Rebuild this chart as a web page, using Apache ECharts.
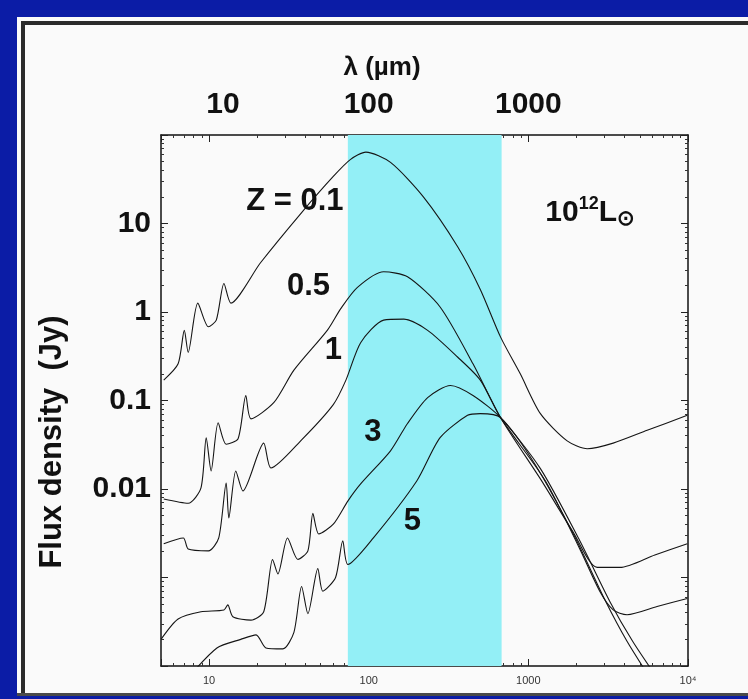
<!DOCTYPE html>
<html>
<head>
<meta charset="utf-8">
<title>SED vs redshift</title>
<script src="https://cdn.jsdelivr.net/npm/echarts@6/dist/echarts.min.js"></script>
<style>
  html, body { margin: 0; padding: 0; background: #0b1ca6; }
  #main { width: 748px; height: 699px; }
</style>
</head>
<body>
<div id="main"></div>
<script>
// wavelength (um), flux density (Jy)
const sedZ01 = [[5.2, 0.17], [6.4, 0.26], [7.0, 0.62], [7.4, 0.35], [8.5, 1.26], [9.9, 0.68], [11.1, 0.81], [12.4, 2.1], [13.7, 1.26], [21, 3.6], [38, 13.3], [60, 34], [77, 53], [96, 64], [137, 49], [220, 20], [360, 5.5], [500, 1.8], [670, 0.52], [890, 0.2], [1190, 0.071], [1750, 0.035], [2340, 0.0285], [3400, 0.033], [5550, 0.046], [9900, 0.068]];
const sedZ05 = [[5.2, 0.0077], [7.4, 0.0069], [8.9, 0.0103], [9.6, 0.038], [10.3, 0.016], [11.4, 0.056], [12.8, 0.032], [15.2, 0.037], [17, 0.114], [18.3, 0.062], [25.5, 0.095], [34, 0.22], [55, 0.62], [67, 1.1], [85, 1.9], [124, 2.85], [175, 2.5], [280, 1.14], [450, 0.26], [670, 0.064], [1190, 0.013], [1900, 0.0033], [2700, 0.0013], [3750, 0.0013], [6200, 0.0018], [9900, 0.0024]];
const sedZ1 = [[5.2, 0.0024], [6.9, 0.0028], [7.4, 0.0021], [9.9, 0.002], [11.5, 0.0028], [12.8, 0.0117], [13.3, 0.0047], [14.7, 0.016], [16.3, 0.0095], [22, 0.033], [24.4, 0.0173], [38, 0.036], [60, 0.09], [72, 0.17], [89, 0.45], [124, 0.81], [166, 0.83], [234, 0.62], [360, 0.31], [500, 0.17], [670, 0.064], [1280, 0.0123], [2100, 0.0021], [2800, 0.0007], [3400, 0.00043], [4150, 0.00038], [6400, 0.00047], [9900, 0.00058]];
const sedZ3 = [[5.0, 0.0002], [6.4, 0.00034], [8.9, 0.00041], [12.4, 0.00043], [13.1, 0.00049], [14.1, 0.00036], [18.3, 0.00033], [22, 0.00041], [25, 0.0016], [27, 0.0011], [31, 0.0028], [36, 0.0016], [41.6, 0.002], [44.7, 0.0053], [48.7, 0.0031], [60, 0.004], [74, 0.0073], [89, 0.0114], [137, 0.027], [175, 0.055], [234, 0.108], [325, 0.148], [450, 0.114], [670, 0.064], [1190, 0.017], [2100, 0.0026], [3250, 0.00053], [4500, 0.00019], [6200, 0.00008]];
const sedZ5 = [[7.2, 0.00007], [11.2, 0.00016], [15.8, 0.0002], [19.7, 0.000225], [22.7, 0.00016], [29, 0.000156], [34, 0.00024], [38, 0.00079], [41.6, 0.00039], [48, 0.00126], [51.6, 0.0007], [62, 0.001], [68.8, 0.0026], [74, 0.0014], [107, 0.0028], [200, 0.0123], [280, 0.038], [416, 0.068], [500, 0.071], [670, 0.064], [1100, 0.019], [1970, 0.0028], [3030, 0.00055], [4150, 0.00019], [5600, 0.00008]];

// shaded submm band (um)
const band = [74, 680];

// curve labels: text, wavelength, flux
const labels = [
  ['Z = 0.1', 34.5, 17.8],
  ['0.5', 42, 1.92],
  ['1', 60, 0.37],
  ['3', 106, 0.043],
  ['5', 188, 0.0043],
  ['{n|10}{sup|12}{n|L}{sub|⊙}', 2440, 13.3],
];

const xTickText = { 1: '10', 2: '100', 3: '1000', 4: '10⁴' };
const xTopText = { 1: '{shift|10}', 2: '100', 3: '1000' };
const yTickText = { 1: '10', 0: '1', '-1': '0.1', '-2': '0.01' };

const FONT = 'Liberation Sans, Arial, Helvetica, sans-serif';
const INK = '#111';
const LINE = '#151515';

// decade exponent of a tick value, or null when it is not a whole decade
const decade = (v) => {
  const e = Math.log10(v);
  return Math.abs(e - Math.round(e)) < 1e-6 ? Math.round(e) : null;
};

const ticks = {
  axisLine: { show: true, lineStyle: { color: INK, width: 1.5 } },
  axisTick: { show: true, inside: true, length: 7, lineStyle: { color: '#222' } },
  minorTick: { show: true, splitNumber: 9, length: 3, lineStyle: { color: '#333' } },
  splitLine: { show: false },
};
const logX = (pos, label) => Object.assign({ type: 'log', position: pos, min: 5, max: 10000, axisLabel: label }, ticks);
const logY = (pos, label) => Object.assign({ type: 'log', position: pos, min: 0.0001, max: 100, axisLabel: label }, ticks);

const bigLabel = { color: INK, fontFamily: FONT, fontWeight: 'bold', fontSize: 30 };

const curve = (name, data) => ({
  name,
  type: 'line',
  data,
  showSymbol: false,
  smooth: 0.25,
  lineStyle: { color: LINE, width: 1.1 },
  z: 3,
});

const series = [
  curve('z=0.1', sedZ01),
  curve('z=0.5', sedZ05),
  curve('z=1', sedZ1),
  curve('z=3', sedZ3),
  curve('z=5', sedZ5),
  {
    type: 'scatter',
    symbolSize: 0,
    itemStyle: { opacity: 1, color: INK },
    data: labels.map((l) => [l[1], l[2], l[0]]),
    label: Object.assign({
      show: true,
      position: 'inside',
      formatter: (p) => p.value[2],
      fontSize: 31,
      rich: {
        n: { color: INK, fontFamily: FONT, fontWeight: 'bold', fontSize: 30 },
        sup: { color: INK, fontFamily: FONT, fontWeight: 'bold', fontSize: 18, verticalAlign: 'top', padding: [0, 0, 12, 0] },
        sub: { color: INK, fontFamily: FONT, fontWeight: 'bold', fontSize: 21, padding: [14, 0, 0, 0] },
      },
    }, { color: INK, fontFamily: FONT, fontWeight: 'bold' }),
    z: 5,
    silent: true,
  },
];

series[0].markArea = {
  silent: true,
  itemStyle: { color: '#93eff6' },
  data: [[{ xAxis: band[0] }, { xAxis: band[1] }]],
};

const option = {
  backgroundColor: '#0b1ca6',
  animation: false,
  grid: { left: 161, right: 60, top: 135, bottom: 33 },
  xAxis: [
    logX('bottom', {
      show: true,
      margin: 9,
      color: '#333',
      fontFamily: FONT,
      fontSize: 11,
      formatter: (v) => xTickText[decade(v)] || '',
    }),
    logX('top', Object.assign({
      show: true,
      margin: 15,
      formatter: (v) => xTopText[decade(v)] || '',
      rich: { shift: Object.assign({ padding: [0, 0, 0, 28] }, bigLabel) },
    }, bigLabel)),
  ],
  yAxis: [
    logY('left', Object.assign({
      show: true,
      margin: 10,
      formatter: (v) => yTickText[decade(v)] || '',
    }, bigLabel)),
    logY('right', { show: false }),
  ],
  graphic: [
    { type: 'rect', shape: { x: 17, y: 17, width: 740, height: 677 }, style: { fill: '#fafafa' }, z: -10 },
    { type: 'rect', shape: { x: 21, y: 21, width: 740, height: 4 }, style: { fill: '#2b2b2b' }, z: -9 },
    { type: 'rect', shape: { x: 21, y: 21, width: 4, height: 673 }, style: { fill: '#2b2b2b' }, z: -9 },
    { type: 'rect', shape: { x: 17, y: 693, width: 740, height: 3 }, style: { fill: '#4a4a4a' }, z: -9 },
    {
      type: 'text',
      x: 382,
      y: 68,
      style: { text: 'λ (µm)', font: 'bold 26px ' + FONT, fill: INK, textAlign: 'center', textVerticalAlign: 'middle' },
    },
    {
      type: 'text',
      x: 52,
      y: 442,
      rotation: Math.PI / 2,
      style: { text: 'Flux density  (Jy)', font: 'bold 31px ' + FONT, fill: INK, textAlign: 'center', textVerticalAlign: 'middle' },
    },
  ],
  series,
};

const chart = echarts.init(document.getElementById('main'));
chart.setOption(option);
</script>
</body>
</html>
